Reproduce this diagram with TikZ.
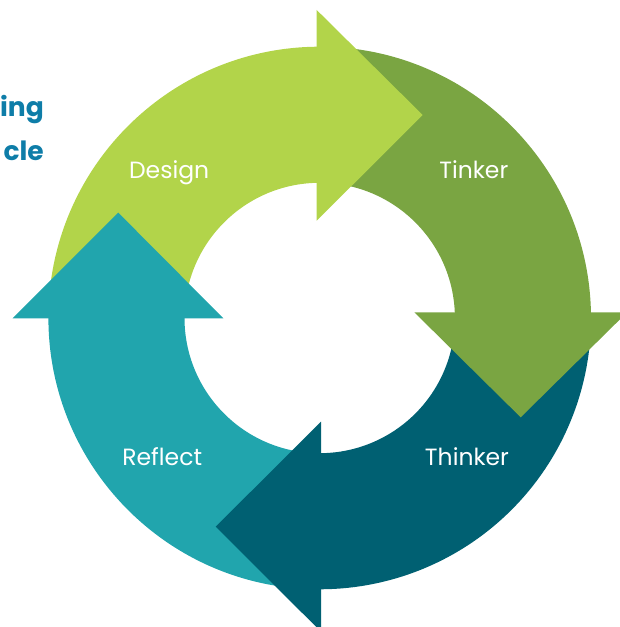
\documentclass[tikz,border=0pt]{standalone}
\usepackage{fontspec}
\setmainfont{Poppins}
\definecolor{cdesign}{HTML}{B2D44A}
\definecolor{ctinker}{HTML}{7AA542}
\definecolor{cthinker}{HTML}{006072}
\definecolor{creflect}{HTML}{21A5AD}
\definecolor{ctitle}{HTML}{0E7DA8}
\tikzset{
  lbl/.style={text=white, font=\fontsize{23.5}{28}\selectfont, anchor=base, inner sep=0pt},
  ttl/.style={text=ctitle, font=\fontsize{26.5}{32}\selectfont\bfseries, anchor=base east, inner sep=0pt},
}
\begin{document}
\begin{tikzpicture}[x=1pt,y=1pt]
\useasboundingbox (0,0) rectangle (619,627);
\def\ro{271.3}
\def\ri{135.2}
% bands
\begin{scope}[shift={(319.7,309)}]
  \fill[cdesign] (179.5:\ro) arc[start angle=179.5, end angle=90, radius=\ro] -- (90:\ri) arc[start angle=90, end angle=179.5, radius=\ri] -- cycle;
  \fill[ctinker] (90:\ro) arc[start angle=90, end angle=0, radius=\ro] -- (0:\ri) arc[start angle=0, end angle=90, radius=\ri] -- cycle;
  \fill[cthinker] (0:\ro) arc[start angle=0, end angle=-90.5, radius=\ro] -- (-90.5:\ri) arc[start angle=-90.5, end angle=0, radius=\ri] -- cycle;
  \fill[creflect] (-90.5:\ro) arc[start angle=-90.5, end angle=-180.5, radius=\ro] -- (-180.5:\ri) arc[start angle=-180.5, end angle=-90.5, radius=\ri] -- cycle;
\end{scope}
% arrow heads
\fill[cdesign] (316.7,617) -- (422.7,512) -- (316.7,406.3) -- cycle;
\fill[ctinker] (414.3,314.7) -- (627.1,314.7) -- (520.7,209.7) -- cycle;
\fill[cthinker] (321,205.3) -- (215.7,100.3) -- (321,-4.7) -- cycle;
\fill[creflect] (12.7,308.7) -- (118.3,414.3) -- (223.3,308.7) -- cycle;
% labels
\node[lbl] (design) at (169.2,448.7) {Design};
\node[lbl] (tinker) at (473.8,448.7) {Tinker};
\node[lbl] (thinker) at (467,161) {Thinker};
\node[lbl] (reflect) at (162.2,161) {Reflect};
% cut-off title
\node[ttl] (t1) at (44,510.3) {ing};
\node[ttl] (t2) at (44,466.3) {cle};
\end{tikzpicture}
\end{document}
